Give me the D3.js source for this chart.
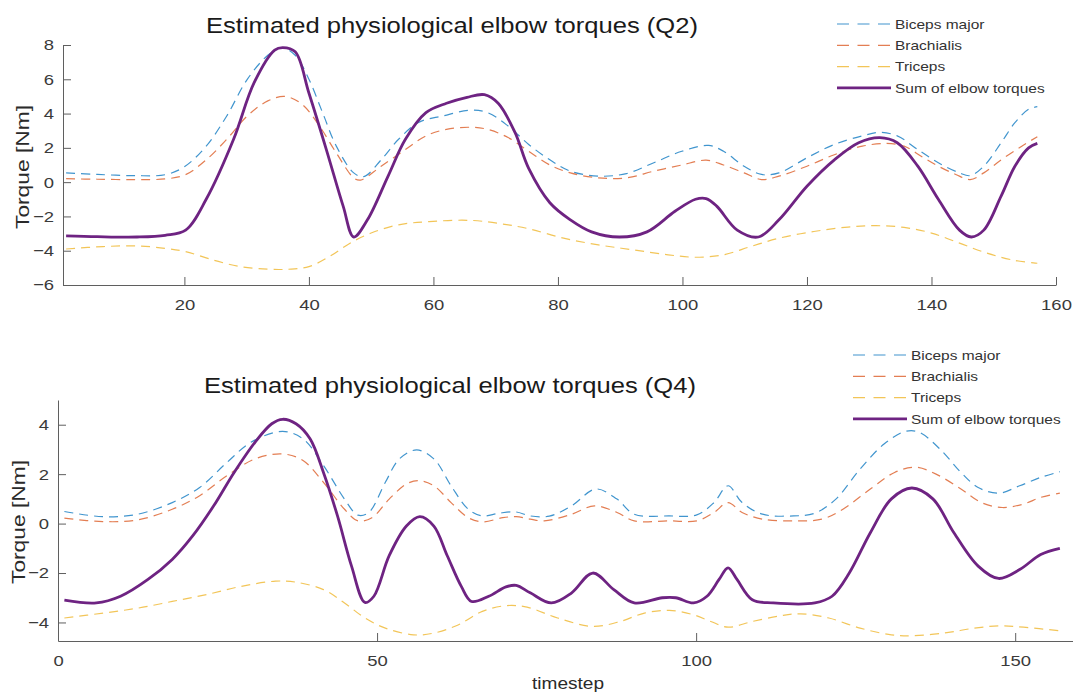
<!DOCTYPE html>
<html>
<head>
<meta charset="utf-8">
<script src="https://cdn.jsdelivr.net/npm/d3@7"></script>
<style>
  body { margin: 0; background: #fff; }
  svg { display: block; font-family: "Liberation Sans", Arial, sans-serif; }
</style>
</head>
<body>
<svg id="chart" width="1073" height="698"></svg>
<script>
// legend / series names
const seriesNames = ["Biceps major", "Brachialis", "Triceps", "Sum of elbow torques"];

// Q2 panel, [timestep, torque]
const q2Biceps = [[1,0.54],[6,0.45],[12,0.38],[17,0.44],[20,0.9],[23.5,2.1],[26.8,3.86],[30.1,6.0],[33.4,7.4],[35.6,7.85],[37.8,7.4],[40,6.0],[42.2,4.05],[44.4,2.1],[47.2,0.54],[48.8,0.32],[51.6,1.3],[54.4,2.5],[57.7,3.5],[61.5,3.86],[65.9,4.2],[68.7,4.05],[72,3.27],[75.3,2.2],[78.7,1.3],[82,0.64],[86.5,0.35],[91,0.5],[95.4,1.13],[99.9,1.8],[104.2,2.14],[106.6,1.8],[109.9,0.93],[112.7,0.45],[115.5,0.54],[120,1.42],[124.4,2.2],[128.9,2.7],[131.7,2.9],[134.5,2.7],[137.8,1.9],[141.1,1.13],[144.5,0.54],[146.2,0.38],[148.4,0.93],[151.2,2.3],[153.4,3.47],[155.6,4.25],[157,4.4]];
const q2Brachialis = [[1,0.2],[6,0.17],[12,0.15],[17,0.19],[20.2,0.44],[23.5,1.3],[26.8,2.5],[30.1,3.86],[33.4,4.74],[36.2,5.0],[38.9,4.54],[41.7,3.27],[44.4,1.7],[47.2,0.25],[48.3,0.12],[51.6,0.93],[55.5,1.9],[58.8,2.7],[62.1,3.08],[65.9,3.2],[68.7,3.08],[72,2.6],[75.3,1.8],[78.7,1.0],[82,0.54],[86.5,0.25],[91,0.25],[95.4,0.64],[99.9,1.0],[103.8,1.28],[106.6,1.0],[109.9,0.54],[112.7,0.15],[115.5,0.35],[120,0.93],[124.4,1.6],[128.9,2.1],[132.8,2.26],[135.6,2.1],[138.4,1.5],[141.1,0.93],[143.9,0.45],[146.2,0.15],[148.4,0.54],[151.2,1.3],[154.5,2.1],[157,2.65]];
const q2Triceps = [[1,-3.9],[6.9,-3.76],[12.4,-3.72],[16.9,-3.86],[20.2,-4.05],[24.6,-4.54],[29,-4.93],[33.4,-5.08],[36.7,-5.08],[40,-4.93],[43.3,-4.34],[46.6,-3.56],[49.9,-2.98],[54.4,-2.49],[59.3,-2.3],[65.9,-2.23],[70.9,-2.43],[75.3,-2.72],[80.9,-3.27],[86.5,-3.66],[92.1,-3.95],[97.7,-4.24],[102.1,-4.38],[106.6,-4.24],[111,-3.75],[115.5,-3.27],[121.1,-2.88],[126.6,-2.62],[131.1,-2.54],[135.6,-2.64],[140,-2.97],[144.5,-3.56],[148.9,-4.14],[153.4,-4.57],[157,-4.73]];
const q2Sum = [[1,-3.13],[6,-3.18],[12.4,-3.2],[16.9,-3.1],[20.2,-2.8],[23.5,-1.0],[27.9,2.5],[31.2,5.8],[34.5,7.7],[35.8,7.85],[37.8,7.6],[40,5.2],[42.8,1.9],[45.5,-1.4],[47.2,-3.2],[49.4,-2.2],[52.7,0.34],[55.5,2.5],[58.8,4.05],[62.1,4.6],[65.4,4.95],[68.2,5.1],[70.4,4.6],[73.1,2.9],[75.3,0.8],[78.7,-1.2],[82,-2.2],[85.4,-2.9],[89.9,-3.2],[94.3,-2.9],[98.8,-1.7],[102.1,-1.0],[103.8,-0.96],[105.5,-1.4],[108.8,-2.8],[112.2,-3.2],[115.5,-2.2],[120,-0.24],[124.4,1.3],[128.3,2.3],[131.7,2.6],[134.5,2.3],[137.8,0.93],[141.1,-1.0],[144.5,-2.8],[146.4,-3.2],[148.4,-2.8],[151.2,-0.8],[153.4,0.93],[155.6,2.0],[157,2.26]];

// Q4 panel
const q4Biceps = [[1,0.49],[7,0.28],[12.5,0.38],[17.9,0.85],[22.2,1.46],[26.5,2.48],[30.3,3.3],[35.2,3.73],[38.4,3.43],[41.6,2.35],[44.9,0.99],[47,0.34],[48.7,0.45],[51.3,1.67],[53.5,2.62],[56.2,2.98],[58.9,2.62],[61.6,1.53],[64.3,0.58],[66.5,0.31],[69.1,0.42],[71.8,0.47],[74,0.31],[77,0.3],[80.5,0.72],[84.3,1.4],[87.6,0.99],[90.3,0.38],[95.8,0.31],[100.1,0.35],[102.8,0.85],[105,1.53],[107.2,0.85],[110.4,0.38],[115.3,0.31],[118.6,0.42],[121.9,0.99],[125.7,2.21],[129.5,3.23],[132.8,3.73],[134.9,3.7],[138.2,3.02],[141.5,2.07],[144.2,1.46],[147.4,1.23],[150.7,1.53],[154,1.87],[157,2.1]];
const q4Brachialis = [[1,0.22],[7,0.08],[12.5,0.15],[17.9,0.58],[22.2,1.13],[26.5,1.94],[30.9,2.62],[35.2,2.82],[38.4,2.55],[41.6,1.67],[44.9,0.58],[47,0.11],[49.2,0.24],[51.9,0.99],[54.6,1.6],[56.5,1.74],[58.9,1.53],[61.6,0.85],[64.3,0.24],[66.5,0.07],[69.7,0.24],[71.8,0.28],[74,0.18],[76.2,0.11],[80.5,0.38],[84.1,0.72],[87.6,0.45],[90.3,0.11],[95.8,0.11],[100.1,0.11],[102.8,0.45],[105,0.85],[107.2,0.45],[110.4,0.18],[115.3,0.11],[119.7,0.18],[123,0.58],[127.3,1.4],[131.1,2.07],[134.4,2.28],[137.6,2.0],[141.5,1.4],[144.7,0.85],[148,0.65],[151.3,0.79],[154,1.06],[157,1.23]];
const q4Triceps = [[1,-3.82],[7.1,-3.62],[12.5,-3.42],[17.9,-3.15],[23.3,-2.87],[28.7,-2.54],[34.1,-2.33],[37.3,-2.37],[41.6,-2.67],[44.9,-3.21],[48.1,-3.82],[51.3,-4.23],[55.7,-4.5],[58.9,-4.43],[62.7,-4.1],[66.5,-3.55],[70.2,-3.32],[73.5,-3.38],[78.3,-3.82],[83.8,-4.16],[88.1,-3.96],[91.9,-3.62],[95.8,-3.51],[99.6,-3.69],[102.3,-3.96],[105,-4.19],[108.8,-3.96],[113.2,-3.73],[116.4,-3.65],[120.8,-3.82],[125.7,-4.23],[130.6,-4.5],[133.8,-4.54],[139.3,-4.41],[143.6,-4.23],[147.4,-4.14],[151.3,-4.19],[157,-4.34]];
const q4Sum = [[1,-3.1],[6,-3.21],[9.8,-2.94],[14.1,-2.26],[17.9,-1.45],[21.1,-0.5],[24.4,0.72],[27.6,2.07],[30.9,3.3],[33.5,4.04],[35.2,4.22],[37.3,4.04],[39.5,3.43],[41.6,2.07],[43.8,0.31],[46,-1.72],[48.1,-3.19],[49.5,-2.94],[51.9,-1.3],[54.6,-0.1],[56.7,0.28],[58.9,-0.1],[61,-1.3],[63.2,-2.54],[64.8,-3.15],[67.5,-2.94],[70.2,-2.56],[71.8,-2.5],[74,-2.8],[77.3,-3.21],[80.5,-2.8],[83.8,-2.0],[87.1,-2.67],[90.3,-3.21],[94.7,-3.0],[96.8,-3.0],[99.6,-3.21],[101.7,-2.94],[103.6,-2.26],[105,-1.79],[106.4,-2.26],[108.8,-3.08],[112.1,-3.21],[118.6,-3.21],[121.3,-2.94],[124,-2.0],[127.3,-0.37],[130.6,1.0],[133.8,1.44],[137.1,1.0],[140.4,-0.37],[144.2,-1.72],[147.4,-2.22],[150.7,-1.86],[154,-1.25],[157,-1.0]];

// ticks
const q2XTicks = [20, 40, 60, 80, 100, 120, 140, 160];
const q2YTicks = [-6, -4, -2, 0, 2, 4, 6, 8];
const q4XTicks = [0, 50, 100, 150];
const q4YTicks = [-4, -2, 0, 2, 4];

const colors = ["#0072BD", "#D95319", "#EDB120", "#6E2382"];
const STRETCH = 1.19; // the source figure is a bit wider than tall

const svg = d3.select("#chart");
svg.append("rect").attr("width", 1073).attr("height", 698).attr("fill", "#fff");

function stretch(sel, k) {
    sel.each(function () {
        const w = this.getComputedTextLength();
        d3.select(this).attr("textLength", w * k).attr("lengthAdjust", "spacingAndGlyphs");
    });
}

function drawPanel(p) {
    const x = d3.scaleLinear().domain(p.xDomain).range(p.xRange);
    const y = d3.scaleLinear().domain(p.yDomain).range(p.yRange);
    const g = svg.append("g");

    const xAxis = g.append("g")
        .attr("transform", `translate(0,${p.yRange[0]})`)
        .call(d3.axisBottom(x).tickValues(p.xTicks).tickSizeInner(-8).tickSizeOuter(0).tickPadding(14));
    const yAxis = g.append("g")
        .attr("transform", `translate(${p.xRange[0]},0)`)
        .call(d3.axisLeft(y).tickValues(p.yTicks).tickSizeInner(-8).tickSizeOuter(0).tickPadding(9));

    [xAxis, yAxis].forEach(a => {
        a.select(".domain").attr("stroke", "#5f5f5f");
        a.selectAll(".tick line").attr("stroke", "#5f5f5f");
        a.selectAll(".tick text").attr("fill", "#3a3a3a").attr("font-size", 15.5)
            .attr("font-family", "Liberation Sans, Arial, sans-serif");
        stretch(a.selectAll(".tick text"), STRETCH);
    });

    const line = d3.line()
        .x(d => x(d[0]))
        .y(d => y(d[1]))
        .curve(d3.curveCatmullRom.alpha(0.5));

    p.series.forEach((s, i) => {
        g.append("path")
            .datum(s)
            .attr("fill", "none")
            .attr("stroke", colors[i])
            .attr("stroke-width", i === 3 ? 2.8 : 1.2)
            .attr("stroke-dasharray", i === 3 ? null : "9,6")
            .attr("stroke-opacity", i === 3 ? 1 : 0.75)
            .attr("d", line);
    });

    // title
    const t = g.append("text")
        .attr("x", p.titleX).attr("y", p.titleY)
        .attr("text-anchor", "middle")
        .attr("font-size", 21.5)
        .attr("fill", "#1a1a1a")
        .text(p.title);
    stretch(t, STRETCH);

    // y label
    g.append("text")
        .attr("transform", `translate(${p.ylabX},${p.ylabY}) rotate(-90)`)
        .attr("text-anchor", "middle")
        .attr("font-size", 18)
        .attr("fill", "#2a2a2a")
        .attr("textLength", 124)
        .attr("lengthAdjust", "spacingAndGlyphs")
        .text("Torque [Nm]");

    // legend
    const lg = g.append("g").attr("transform", `translate(${p.legX},${p.legY})`);
    seriesNames.forEach((name, i) => {
        const yy = i * 21.3;
        lg.append("line")
            .attr("x1", 0).attr("x2", 54).attr("y1", yy).attr("y2", yy)
            .attr("stroke", colors[i])
            .attr("stroke-width", i === 3 ? 2.8 : 1.2)
            .attr("stroke-dasharray", i === 3 ? null : "12,8.5")
            .attr("stroke-opacity", i === 3 ? 1 : 0.75);
        const tx = lg.append("text")
            .attr("x", 58).attr("y", yy + 4.6)
            .attr("font-size", 13)
            .attr("fill", "#333")
            .text(name);
        stretch(tx, STRETCH);
    });
}

drawPanel({
    xDomain: [0.5, 160], xRange: [63, 1056],
    yDomain: [-6, 8], yRange: [285, 45],
    xTicks: q2XTicks, yTicks: q2YTicks,
    series: [q2Biceps, q2Brachialis, q2Triceps, q2Sum],
    title: "Estimated physiological elbow torques (Q2)", titleX: 452, titleY: 33,
    ylabX: 29, ylabY: 167,
    legX: 837, legY: 24
});

drawPanel({
    xDomain: [0, 160], xRange: [58, 1079],
    yDomain: [-4.75, 5.0], yRange: [641, 400],
    xTicks: q4XTicks, yTicks: q4YTicks,
    series: [q4Biceps, q4Brachialis, q4Triceps, q4Sum],
    title: "Estimated physiological elbow torques (Q4)", titleX: 450, titleY: 393,
    ylabX: 25, ylabY: 522,
    legX: 853, legY: 355
});

const xl = svg.append("text")
    .attr("x", 568).attr("y", 689)
    .attr("text-anchor", "middle")
    .attr("font-size", 16)
    .attr("fill", "#2a2a2a")
    .text("timestep");
stretch(xl, STRETCH);
</script>
</body>
</html>
